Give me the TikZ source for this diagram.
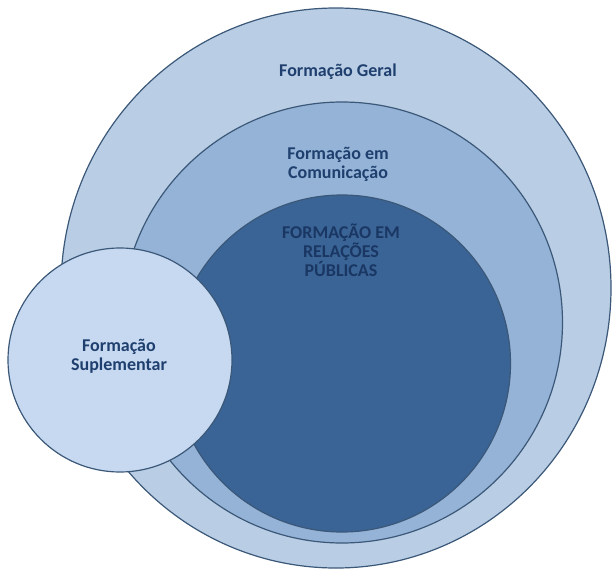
\documentclass[tikz,border=0pt]{standalone}
\usepackage{fontspec}
\setmainfont{Carlito}
\usetikzlibrary{shapes.geometric}
\definecolor{cOuter}{HTML}{B9CDE5}
\definecolor{cMiddle}{HTML}{95B3D7}
\definecolor{cInner}{HTML}{3A6496}
\definecolor{cSmall}{HTML}{C6D9F1}
\definecolor{cEdge}{HTML}{3B5878}
\definecolor{cText}{HTML}{1F3F6E}
\definecolor{cTextDark}{HTML}{1A3763}
\tikzset{
  ring/.style={draw=cEdge, line width=1.2pt, inner sep=0pt},
  lbl/.style={font=\fontsize{18}{19}\selectfont\bfseries, text=cText, align=center, inner sep=0pt},
}
\begin{document}
\begin{tikzpicture}[x=1pt,y=-1pt]
\useasboundingbox (0,0) rectangle (613,570);
\node[ring, ellipse, fill=cOuter, minimum width=550pt, minimum height=560pt] (outer) at (336,288) {};
\node[ring, circle, fill=cMiddle, minimum size=441pt] (middle) at (342,322.5) {};
\node[ring, circle, fill=cInner, minimum size=337pt] (inner) at (342,363.5) {};
\node[ring, circle, fill=cSmall, minimum size=224pt] (small) at (120,360) {};
\node[lbl] (tGeral) at (338,72) {Formação Geral};
\node[lbl] (tCom) at (338,164) {Formação em\\Comunicação};
\node[lbl, text=cTextDark] (tRP) at (341,250) {FORMAÇÃO EM\\RELAÇÕES\\PÚBLICAS};
\node[lbl] (tSup) at (119,356.5) {Formação\\Suplementar};
\end{tikzpicture}
\end{document}
